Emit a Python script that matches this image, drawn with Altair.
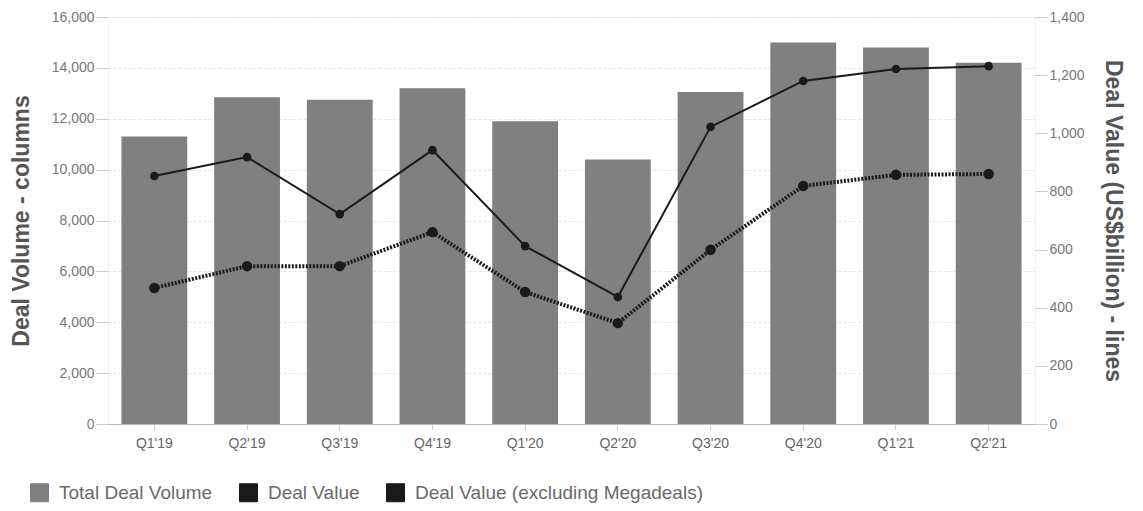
import altair as alt
import pandas as pd

quarters = ["Q1'19", "Q2'19", "Q3'19", "Q4'19", "Q1'20", "Q2'20", "Q3'20", "Q4'20", "Q1'21", "Q2'21"]
deal_volume = [11300, 12850, 12750, 13200, 11900, 10400, 13050, 15000, 14800, 14200]
deal_value = [853, 918, 722, 942, 612, 437, 1022, 1180, 1221, 1231]
deal_value_excl = [468, 543, 543, 660, 454, 347, 599, 819, 857, 860]

series_names = ["Total Deal Volume", "Deal Value", "Deal Value (excluding Megadeals)"]
series_colors = ["#808080", "#1a1a1a", "#1a1a1a"]

df_bar = pd.DataFrame({"quarter": quarters, "volume": deal_volume, "series": series_names[0]})
df_line = pd.concat([
    pd.DataFrame({"quarter": quarters, "value": deal_value, "series": series_names[1]}),
    pd.DataFrame({"quarter": quarters, "value": deal_value_excl, "series": series_names[2]}),
])

color = alt.Color(
    "series:N",
    scale=alt.Scale(domain=series_names, range=series_colors),
    legend=alt.Legend(
        title=None, orient="none", legendX=-78, legendY=466, direction="horizontal",
        symbolType="square", symbolSize=324, symbolStrokeWidth=1, symbolStrokeColor="#444",
        labelFontSize=19, labelColor="#6a6a6a", labelOffset=10, columnPadding=24, labelLimit=0,
    ),
)

x = alt.X(
    "quarter:N", sort=quarters, title=None,
    scale=alt.Scale(paddingInner=0.29, paddingOuter=0.145),
    axis=alt.Axis(labelAngle=0, labelColor="#666", labelFontSize=14, labelPadding=7,
                  domainColor="#bbbbbb", tickColor="#cccccc", tickSize=5, grid=False),
)

bars = alt.Chart(df_bar).mark_bar().encode(
    x=x,
    y=alt.Y("volume:Q", title="Deal Volume - columns",
            scale=alt.Scale(domain=[0, 16000], nice=False),
            axis=alt.Axis(values=list(range(0, 16001, 2000)), format=",d",
                          labelColor="#777", labelFontSize=14, tickSize=12, tickColor="#cccccc",
                          labelPadding=2, domain=False, gridColor="#dfe6e6", gridDash=[3, 2],
                          titleFontSize=23, titleFontWeight="bold", titleColor="#555",
                          titlePadding=18)),
    color=color,
)

y2 = alt.Y("value:Q", title="Deal Value (US$billion) - lines",
           scale=alt.Scale(domain=[0, 1400], nice=False),
           axis=alt.Axis(orient="right", values=list(range(0, 1401, 200)), format=",d",
                         labelColor="#777", labelFontSize=14, tickSize=12, tickColor="#cccccc",
                         labelPadding=2, domain=False, grid=False,
                         titleFontSize=23, titleFontWeight="bold", titleColor="#555",
                         titlePadding=16))

line_base = alt.Chart(df_line).encode(x=x, y=y2, color=color)

line_solid = line_base.transform_filter(alt.datum.series == series_names[1]).mark_line(strokeWidth=2)
line_dot = line_base.transform_filter(alt.datum.series == series_names[2]).mark_line(
    strokeWidth=4, strokeDash=[2, 1.5])
pts_solid = line_base.transform_filter(alt.datum.series == series_names[1]).mark_circle(size=75, opacity=1)
pts_dot = line_base.transform_filter(alt.datum.series == series_names[2]).mark_circle(size=110, opacity=1)

lines = alt.layer(line_solid, line_dot, pts_solid, pts_dot)

chart = alt.layer(bars, lines).resolve_scale(y="independent").properties(
    width=927, height=407,
    autosize=alt.AutoSizeParams(type="none"),
    padding={"left": 108, "top": 17, "right": 108, "bottom": 87},
).configure(font="Liberation Sans").configure_view(
    stroke="#e3e3e3", strokeDash=[2, 2]
)

chart.save("out.html", embed_options={"renderer": "svg", "actions": False})
